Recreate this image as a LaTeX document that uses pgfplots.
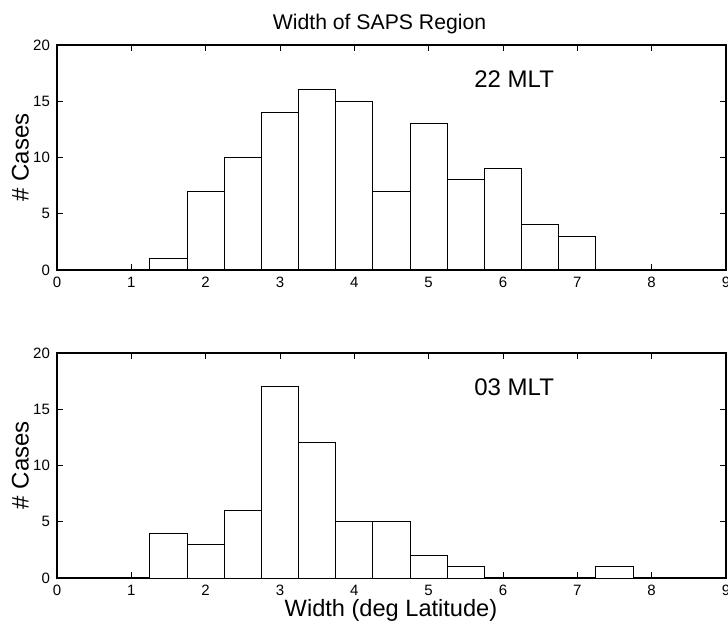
\documentclass[border=0pt]{standalone}
\usepackage{fontspec}
\setmainfont{Liberation Sans}
\usepackage{pgfplots}
\pgfplotsset{compat=1.18}

\pgfplotsset{
  histax/.style={
    scale only axis,
    width=334.5pt, height=112.5pt,
    anchor=south west,
    xmin=0, xmax=9, ymin=0, ymax=20,
    xtick={0,1,...,9}, ytick={0,5,10,15,20},
    tick align=inside,
    major tick length=3pt,
    tick style={black, line width=0.45pt},
    axis line style={black, line width=0.65pt},
    tick label style={font=\fontsize{7.5}{8}\selectfont},
    /pgf/number format/assume math mode=true,
    clip=false,
  },
  hbar/.style={ybar, bar width=0.5, bar shift=0pt, draw=black, fill=white, line width=0.5pt},
}

\begin{document}
\begin{tikzpicture}
\useasboundingbox (0,0) rectangle (364pt,313.5pt);

\node[anchor=base, font=\fontsize{10.6}{12}\selectfont] at (189.75pt,298.75pt) {Width of SAPS Region};

% 22 MLT
\begin{axis}[histax, at={(28.5pt,178.5pt)}]
\addplot[hbar] coordinates {
(1.5,1) (2,7) (2.5,10) (3,14) (3.5,16) (4,15) (4.5,7) (5,13) (5.5,8) (6,9) (6.5,4) (7,3)
};
\node[anchor=base west, font=\fontsize{12}{14}\selectfont] at (axis cs:5.52,16.24) {22 MLT};
\end{axis}

% 03 MLT
\begin{axis}[histax, at={(28.5pt,24.5pt)}]
\addplot[hbar] coordinates {
(1.5,4) (2,3) (2.5,6) (3,17) (3.5,12) (4,5) (4.5,5) (5,2) (5.5,1) (7.5,1)
};
\node[anchor=base west, font=\fontsize{12}{14}\selectfont] at (axis cs:5.52,16.24) {03 MLT};
\end{axis}

\node[rotate=90, anchor=base, font=\fontsize{12}{14}\selectfont] at (14.25pt,234.75pt) {\# Cases};
\node[rotate=90, anchor=base, font=\fontsize{12}{14}\selectfont] at (14.25pt,81pt) {\# Cases};
\node[anchor=base, font=\fontsize{11.8}{14}\selectfont] at (195.5pt,5.15pt) {Width (deg Latitude)};
\end{tikzpicture}
\end{document}
